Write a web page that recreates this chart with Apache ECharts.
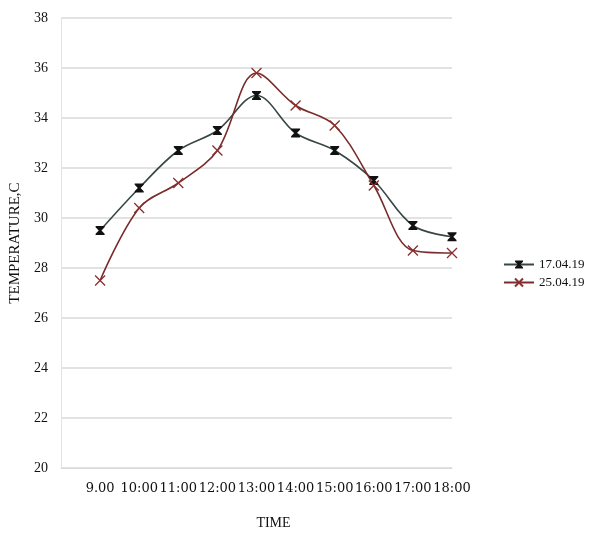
<!DOCTYPE html>
<html>
<head>
<meta charset="utf-8">
<script src="https://cdn.jsdelivr.net/npm/echarts@6/dist/echarts.min.js"></script>
<style>html,body{margin:0;padding:0;background:#fff}#c{width:605px;height:535px}</style>
</head>
<body>
<div id="c"></div>
<script>
const categories = ['9.00','10:00','11:00','12:00','13:00','14:00','15:00','16:00','17:00','18:00'];
const series1Name = '17.04.19';
const series1 = [29.5, 31.2, 32.7, 33.5, 34.9, 33.4, 32.7, 31.5, 29.7, 29.25];
const series2Name = '25.04.19';
const series2 = [27.5, 30.4, 31.4, 32.7, 35.8, 34.5, 33.7, 31.3, 28.7, 28.6];
const yTicks = [20, 22, 24, 26, 28, 30, 32, 34, 36, 38];

const hourglass = 'path://M0,0 L10,0 L10,1.5 L6.5,5 L10,8.5 L10,10 L0,10 L0,8.5 L3.5,5 L0,1.5 Z';
const cross = 'path://M0,0 L10,10 M10,0 L0,10';

const chart = echarts.init(document.getElementById('c'));
const serif = 'Liberation Serif';
chart.setOption({
  animation: false,
  backgroundColor: '#fff',
  grid: { left: 58, right: 153, top: 18, bottom: 63 },
  legend: {
    orient: 'vertical',
    left: 498, top: 253,
    itemWidth: 30, itemHeight: 10, itemGap: 5,
    textStyle: { fontFamily: serif, fontSize: 13, color: '#111' },
    data: [series1Name, series2Name]
  },
  xAxis: {
    type: 'value',
    min: 0, max: 10, interval: 1,
    splitLine: { show: false },
    axisLine: { show: true, lineStyle: { color: '#d9d9d9' } },
    axisTick: { show: false },
    axisLabel: {
      margin: 14,
      fontFamily: 'DejaVu Serif', fontSize: 13, color: '#111',
      showMinLabel: true, showMaxLabel: true,
      formatter: v => (v >= 1 && v <= categories.length) ? categories[v - 1] : ''
    },
    name: 'TIME',
    nameLocation: 'middle',
    nameGap: 48,
    nameTextStyle: { fontFamily: serif, fontSize: 14, color: '#111', padding: [0, 0, 0, 34] }
  },
  yAxis: {
    type: 'value',
    min: yTicks[0], max: yTicks[yTicks.length - 1], interval: 2,
    axisLine: { show: true, lineStyle: { color: '#e3e3e3' } },
    axisTick: { show: false },
    splitLine: { lineStyle: { color: '#d9d9d9', width: 1.5 } },
    axisLabel: { margin: 13, fontFamily: serif, fontSize: 14, color: '#111' },
    name: 'TEMPERATURE,C',
    nameLocation: 'middle',
    nameGap: 38,
    nameTextStyle: { fontFamily: serif, fontSize: 15, color: '#111' }
  },
  series: [
    {
      name: series1Name,
      type: 'line',
      smooth: 0.35,
      data: series1.map((v, i) => [i + 1, v]),
      symbol: hourglass,
      symbolSize: 9,
      lineStyle: { color: '#384646', width: 1.6 },
      itemStyle: { color: '#111' }
    },
    {
      name: series2Name,
      type: 'line',
      smooth: 0.35,
      data: series2.map((v, i) => [i + 1, v]),
      symbol: cross,
      symbolSize: 10,
      lineStyle: { color: '#7a2b2b', width: 1.6 },
      itemStyle: { color: 'rgba(0,0,0,0)', borderColor: '#8b2e2e', borderWidth: 1.3 }
    }
  ]
});
</script>
</body>
</html>
